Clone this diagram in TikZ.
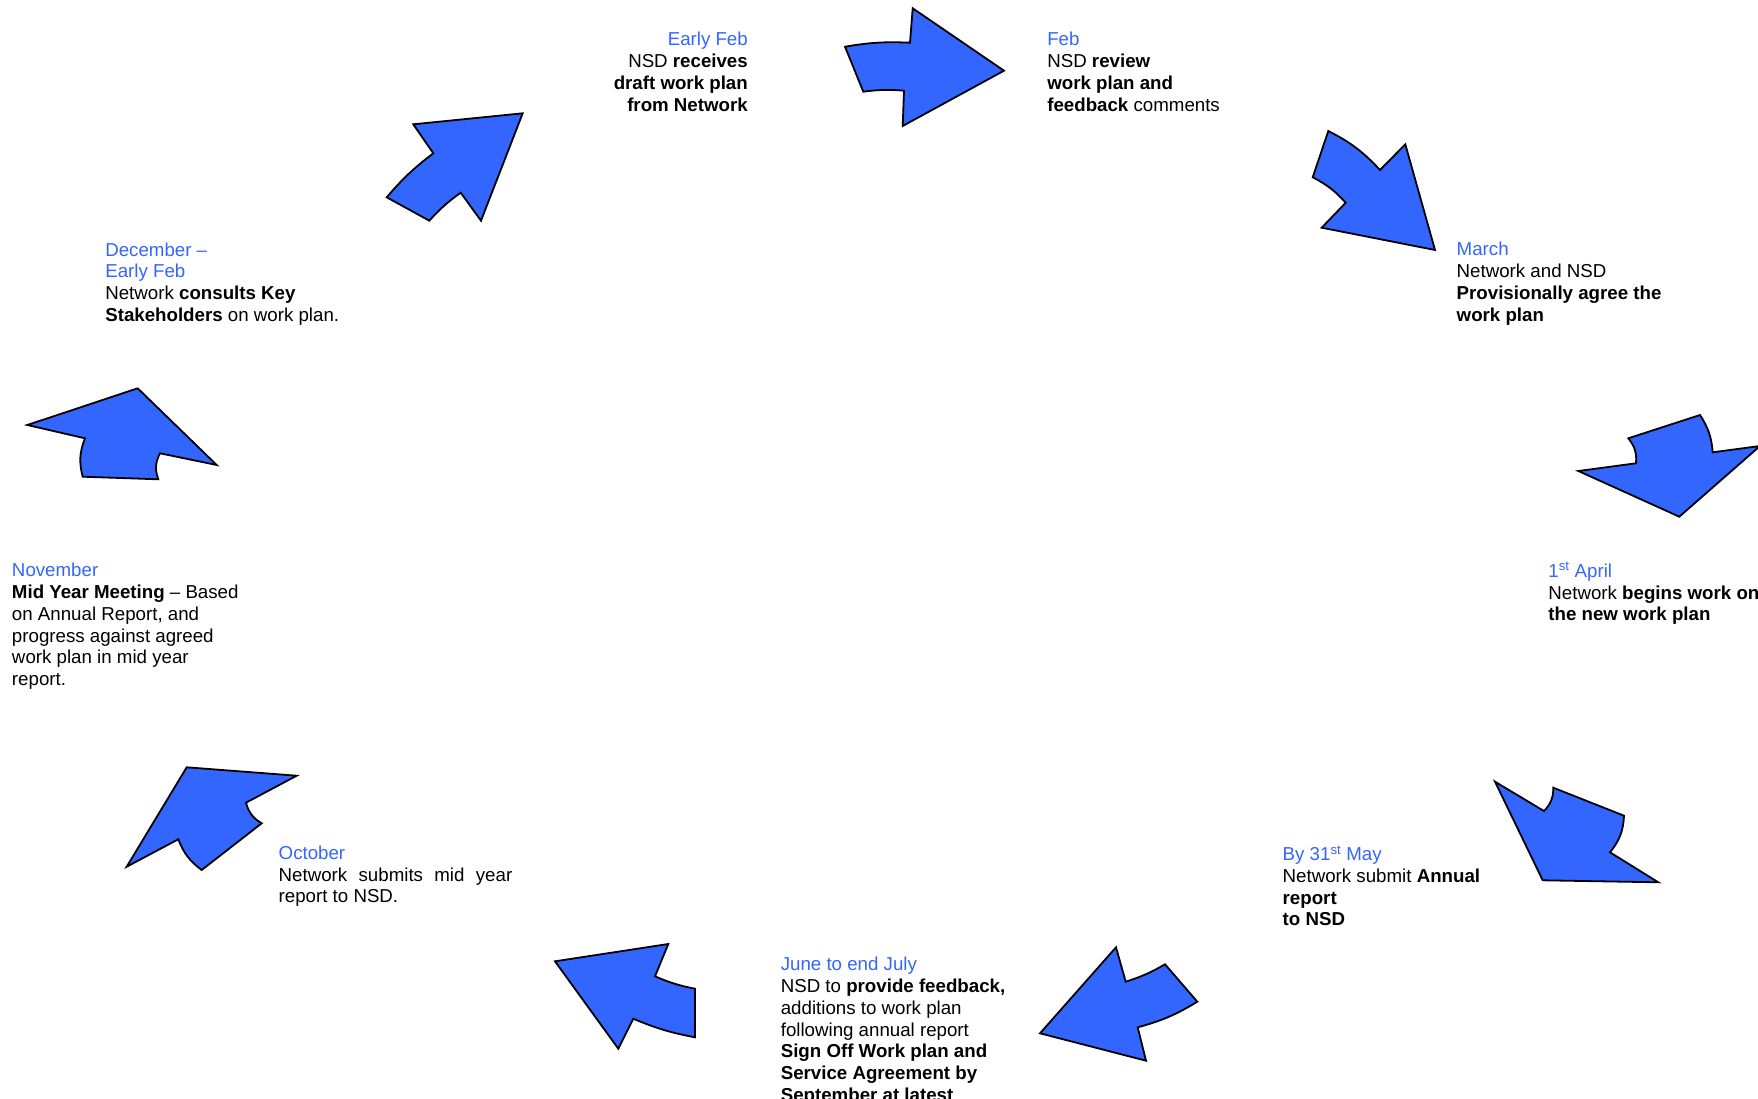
\documentclass[tikz,border=0pt]{standalone}
\usepackage{fontspec}
\setmainfont{Liberation Sans}
\definecolor{arrowblue}{HTML}{3366FF}
\definecolor{textblue}{HTML}{3366FF}
\tikzset{
  blockarrow/.style={fill=arrowblue, draw=black, line width=1.8pt, line join=miter},
  lbl/.style={inner sep=0pt, outer sep=0pt, font=\fontsize{18.7}{21.8}\selectfont},
}
\newcommand{\mon}[1]{{\color{textblue}#1}}
\newcommand{\leftblock}[1]{\parbox[t]{420pt}{\raggedright #1}}
\newcommand{\rightblock}[1]{\parbox[t]{420pt}{\raggedleft #1}}
\begin{document}
\begin{tikzpicture}[x=1pt,y=-1pt]
\useasboundingbox[fill=white] (0,0) rectangle (1758,1099);

% ---- arrows ----
% Early Feb (up-right)
\draw[blockarrow] (413.3,124.3) -- (522.7,113.3) -- (481,220.7) -- (460.7,192.7)
  to[bend right=6] (429.3,220.7) -- (386.7,197.3) to[bend left=6] (433.3,153.3) -- cycle;
% Feb (right)
\draw[blockarrow] (845,46.7) to[bend left=6] (910,42.7) -- (912.7,8.3) -- (1004,70.7)
  -- (902.7,126) -- (904,90.7) to[bend right=6] (863.3,91.7) -- cycle;
% March (down-right)
\draw[blockarrow] (1328.3,131) to[bend left=10] (1380,170) -- (1405.3,144.3) -- (1435,250)
  -- (1321.7,227.7) -- (1345.7,202.7) to[bend right=10] (1312.7,177.3) -- cycle;
% April (down)
\draw[blockarrow] (1578.3,471) -- (1636,463.3) to[bend right=22] (1628.3,438.3)
  -- (1700,415) to[bend left=14] (1712.7,452.3) -- (1760,446) -- (1679.3,516.7) -- cycle;
% May (down-left)
\draw[blockarrow] (1495,781.7) -- (1544,811) to[bend right=22] (1553.3,787.7)
  -- (1624,815.7) to[bend left=18] (1610,852.3) -- (1658.3,882.3) -- (1542.7,880.3) -- cycle;
% June (left)
\draw[blockarrow] (1040,1033.3) -- (1116,947.3) -- (1125.7,981.7) to[bend right=6] (1165,964.3)
  -- (1197.3,1001.7) to[bend left=8] (1137.7,1027.3) -- (1146,1060.7) -- cycle;
% July (up-left)
\draw[blockarrow] (555,961.3) -- (668.3,944) -- (655,976.3) to[bend right=6] (695,988.7)
  -- (695,1037.3) to[bend left=6] (633.3,1018.7) -- (618.3,1048.7) -- cycle;
% October (up)
\draw[blockarrow] (186.7,767.3) -- (296.7,775.7) -- (246,802.7) to[bend right=22] (261.7,823.3)
  -- (201.7,870) to[bend left=16] (178.3,839.3) -- (126.7,866.7) -- cycle;
% December (up)
\draw[blockarrow] (27.3,425) -- (137.7,388.3) -- (216.7,465) -- (160,453.3)
  to[bend right=24] (158.3,479.3) -- (82.7,476.7) to[bend left=18] (85,438.3) -- cycle;

% ---- texts ----
\node[lbl, anchor=base east] (earlyfeb) at (747.8,32.2) {\rightblock{\mon{Early Feb}\\
  NSD \textbf{receives}\\ \textbf{draft work plan}\\ \textbf{from Network}}};
\node[lbl, anchor=base west] (feb) at (1047.3,32.2) {\leftblock{\mon{Feb}\\
  NSD \textbf{review}\\ \textbf{work plan and}\\ \textbf{feedback} comments}};
\node[lbl, anchor=base west] (march) at (1456.7,242.2) {\leftblock{\mon{March}\\
  Network and NSD\\ \textbf{Provisionally agree the}\\ \textbf{work plan}}};
\node[lbl, anchor=base west] (december) at (105.3,242.5) {\leftblock{\mon{December –}\\
  \mon{Early Feb}\\ Network \textbf{consults Key}\\ \textbf{Stakeholders} on work plan.}};
\node[lbl, anchor=base west] (november) at (12,563.2) {\leftblock{\mon{November}\\
  \textbf{Mid Year Meeting} – Based\\ on Annual Report, and\\ progress against agreed\\
  work plan in mid year\\ report.}};
\node[lbl, anchor=base west] (april) at (1548.4,562.5) {\leftblock{\mon{1\textsuperscript{st} April}\\
  Network \textbf{begins work on}\\ \textbf{the new work plan}}};
\node[lbl, anchor=base west] (october) at (278.7,845.8) {\leftblock{\mon{October}\\
  \makebox[233.6pt][s]{Network submits mid year}\\ report to NSD.}};
\node[lbl, anchor=base west] (may) at (1282.7,845.8) {\leftblock{\mon{By 31\textsuperscript{st} May}\\
  Network submit \textbf{Annual}\\ \textbf{report}\\ \textbf{to NSD}}};
\node[lbl, anchor=base west] (june) at (780.8,957.2) {\leftblock{\mon{June to end July}\\
  NSD to \textbf{provide feedback,}\\ additions to work plan\\ following annual report\\
  \textbf{Sign Off Work plan and}\\ \textbf{Service Agreement by}\\ \textbf{September at latest}}};
\end{tikzpicture}
\end{document}
